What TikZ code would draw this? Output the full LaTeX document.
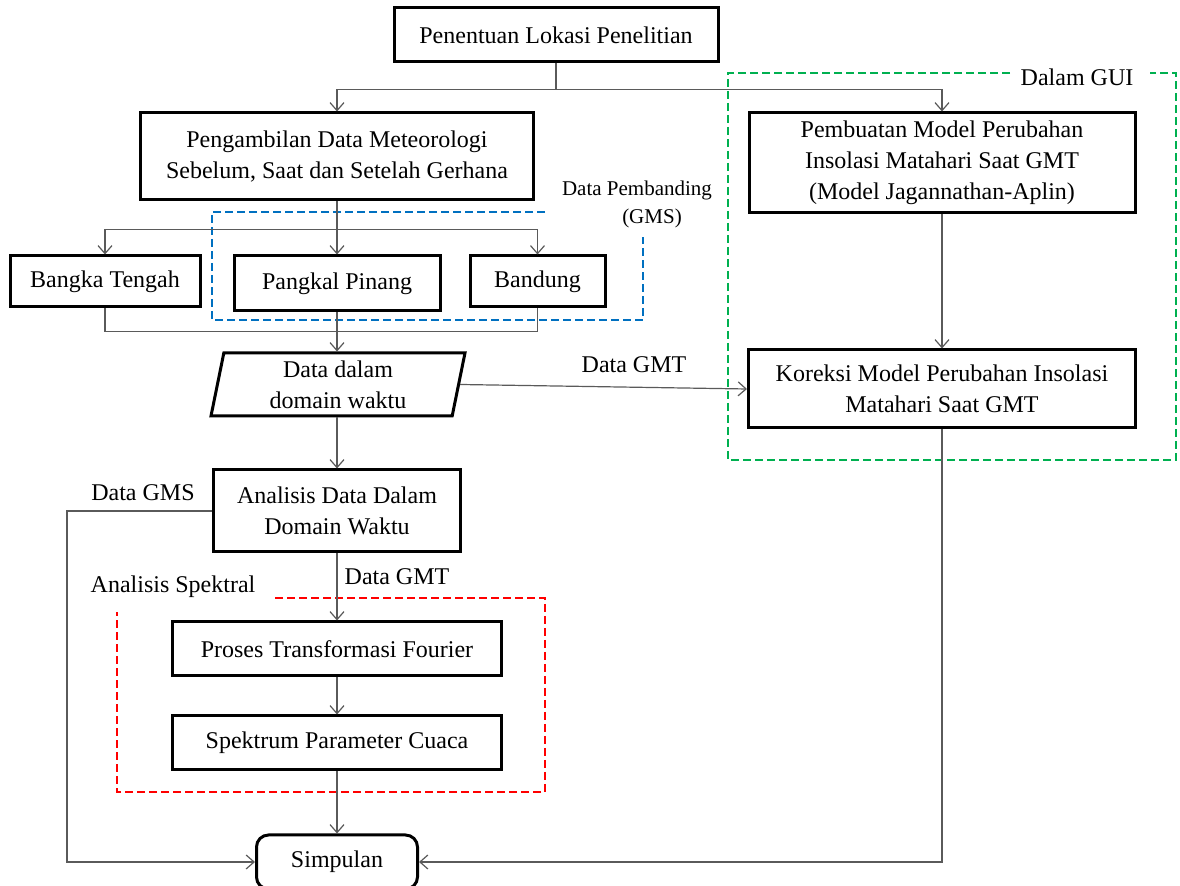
\documentclass[tikz,border=0pt]{standalone}
\usepackage{fontspec}
\setmainfont{Liberation Serif}
\usetikzlibrary{positioning, arrows.meta, shapes.geometric, calc}
\definecolor{guigreen}{RGB}{0,176,80}
\definecolor{gmsblue}{RGB}{0,112,192}
\definecolor{spekred}{RGB}{255,0,0}
\definecolor{linegray}{RGB}{90,90,90}
\tikzset{
    procbox/.style={rectangle, draw=black, line width=1.5pt, align=center, inner sep=0pt, font=\fontsize{12}{15.5}\selectfont},
    endbox/.style={procbox, rounded corners=6pt},
    iobox/.style={trapezium, trapezium left angle=75, trapezium right angle=105, trapezium stretches body, draw=black, line width=1.5pt, align=center, inner sep=0pt, font=\fontsize{12}{15.5}\selectfont},
    arr/.style={-{Straight Barb[length=4pt, width=7pt]}, line width=0.6pt, color=linegray},
    conn/.style={line width=0.6pt, color=linegray},
    grpframe/.style={dashed, dash pattern=on 4pt off 2pt, line width=1pt, draw=#1},
    lbl/.style={font=\fontsize{12}{15}\selectfont, inner sep=0pt},
    smalllbl/.style={font=\fontsize{10.5}{13}\selectfont, inner sep=0pt}
}
\begin{document}
\begin{tikzpicture}[x=0.5pt, y=-0.5pt]
    \useasboundingbox (0,0) rectangle (1180,886);
    % Steps as Boxes
    \node[procbox, minimum width=162pt, minimum height=27pt] (lokasi) at (556,35) {Penentuan Lokasi Penelitian};
    \node[procbox, minimum width=196.5pt, minimum height=43.5pt] (ambil) at (337,156.5) {Pengambilan Data Meteorologi\\Sebelum, Saat dan Setelah Gerhana};
    \node[procbox, minimum width=193pt, minimum height=50pt] (model) at (942,163) {Pembuatan Model Perubahan\\Insolasi Matahari Saat GMT\\(Model Jagannathan-Aplin)};
    \node[procbox, minimum width=193.5pt, minimum height=39pt] (koreksi) at (942,389) {Koreksi Model Perubahan Insolasi\\Matahari Saat GMT};

    % Stations
    \node[procbox, minimum width=95pt, minimum height=25.5pt] (bangka) at (105,281.5) {Bangka Tengah};
    \node[procbox, minimum width=103pt, minimum height=27.5pt] (pangkal) at (337,283.5) {Pangkal Pinang};
    \node[procbox, minimum width=67.5pt, minimum height=25.5pt] (bandung) at (537.5,281.5) {Bandung};

    % Data and analysis
    \node[iobox, minimum width=127pt, minimum height=31.5pt] (data) at (338,384.5) {Data dalam\\domain waktu};
    \node[procbox, minimum width=123.5pt, minimum height=41pt] (analisis) at (337,511) {Analisis Data Dalam\\Domain Waktu};
    \node[procbox, minimum width=164.5pt, minimum height=27pt] (proses) at (337,649) {Proses Transformasi Fourier};
    \node[procbox, minimum width=164.5pt, minimum height=27pt] (spektrum) at (337,743) {Spektrum Parameter Cuaca};
    \node[endbox, minimum width=80.5pt, minimum height=27pt] (simpulan) at (337,862) {Simpulan};

    % Labels
    \node[lbl] (guilbl) at (1077,77) {Dalam GUI};
    \node[smalllbl] (pemb) at (637,190) {Data Pembanding};
    \node[smalllbl] (pembgms) at (652,218) {(GMS)};
    \node[lbl] (gmtlbla) at (634,365) {Data GMT};
    \node[lbl] (gmslbl) at (143,493) {Data GMS};
    \node[lbl] (gmtlblb) at (397,577) {Data GMT};
    \node[lbl] (speklbl) at (173,587) {Analisis Spektral};

    % Group frames
    \draw[grpframe=guigreen] (1010,73) -- (728,73) -- (728,460) -- (1176,460) -- (1176,73) -- (1150,73);
    \draw[grpframe=gmsblue] (545,212) -- (212,212) -- (212,320) -- (643,320) -- (643,237);
    \draw[grpframe=spekred] (275,598) -- (545,598) -- (545,792) -- (117,792) -- (117,612);

    % Arrows
    \draw[conn] (lokasi.south) -- ++(0,26) coordinate (split1);
    \draw[arr] (split1) -| (ambil.north);
    \draw[arr] (split1) -| (model.north);
    \draw[arr] (model.south) -- (koreksi.north);

    \draw[conn] (ambil.south) -- ++(0,28) coordinate (split2);
    \draw[arr] (split2) -- (pangkal.north);
    \draw[arr] (split2) -| (bangka.north);
    \draw[arr] (split2) -| (bandung.north);

    \draw[conn] (bangka.south) -- ++(0,23) -| (bandung.south);
    \draw[arr] (pangkal.south) -- (pangkal.south |- data.north);
    \draw[arr] (data.east) -- (koreksi.west);
    \draw[arr] (pangkal.south |- data.south) -- (analisis.north);

    \draw[arr] (analisis.west) -- ++(-145,0) |- (simpulan.west);
    \draw[arr] (analisis.south) -- (proses.north);
    \draw[arr] (proses.south) -- (spektrum.north);
    \draw[arr] (spektrum.south) -- (simpulan.north);
    \draw[arr] (koreksi.south) |- (simpulan.east);
\end{tikzpicture}
\end{document}
